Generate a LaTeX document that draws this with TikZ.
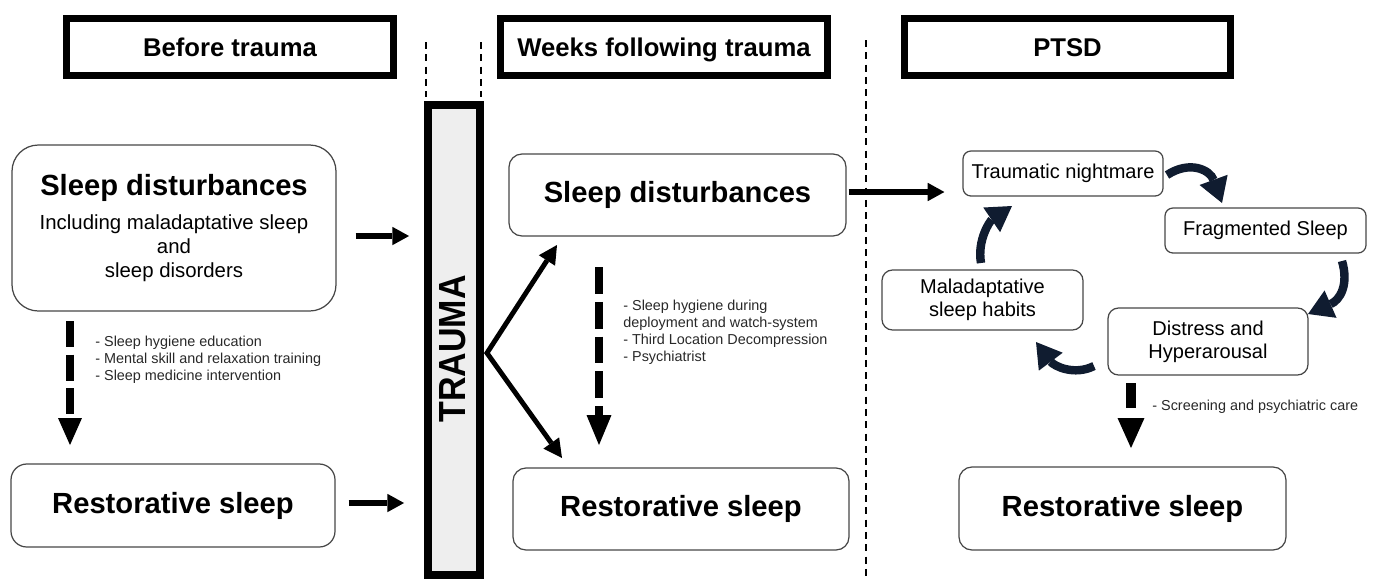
\documentclass[tikz,border=0pt]{standalone}
\usepackage{fontspec}
\usepackage{graphicx}
\setmainfont{Liberation Sans}
\usetikzlibrary{arrows.meta,calc}
\newdimen\pxu
\pxu=0.02cm
\definecolor{navy}{RGB}{16,28,48}
\definecolor{boxgray}{RGB}{70,70,70}
\definecolor{barfill}{RGB}{238,238,238}
\definecolor{notegray}{RGB}{40,40,40}
\begin{document}
\begin{tikzpicture}[x=0.02cm,y=-0.02cm,
  hdr/.style={draw=black,line width=3.8pt,minimum height=57.4\pxu,minimum width=326.4\pxu,inner sep=0pt,
    font=\fontsize{14.6}{17}\selectfont\bfseries,text height=10.5pt,text depth=0pt},
  rbox/.style={draw=boxgray,line width=0.7pt,rounded corners=7.4pt,inner sep=0pt,
    font=\fontsize{16.6}{20}\selectfont\bfseries},
  cbox/.style={draw=boxgray,line width=0.7pt,rounded corners=4.5pt,inner sep=0pt,align=center,
    font=\fontsize{11.4}{13.3}\selectfont},
  note/.style={anchor=west,align=left,inner sep=0pt,text=notegray,font=\fontsize{8.2}{9.65}\selectfont},
  sep/.style={dash pattern=on 4pt off 3pt,line width=1pt},
  harr/.style={line width=3.4pt,-{Triangle[width=10.5pt,length=9.5pt,line width=0pt]}},
  darr/.style={line width=2.8pt,line join=miter,{Triangle[width=11pt,length=10.5pt,line width=0pt]}-{Triangle[width=11pt,length=10.5pt,line width=0pt]}},
  dasharr/.style={line width=5pt},
  carr/.style={draw=navy,line width=4.8pt,-{Triangle[width=17pt,length=14pt,line width=0pt]}},
]
\useasboundingbox (0,0) rectangle (1373,579);

% headers
\node[hdr] (h1) at (230,47) {Before trauma};
\node[hdr] (h2) at (664,47) {Weeks following trauma};
\node[hdr] (h3) at (1067.5,47) {PTSD};

% separators
\draw[sep] (426,42) -- (426,97);
\draw[sep] (481,42) -- (481,97);
\draw[sep] (866,40) -- (866,576);

% trauma bar
\node[draw=black,fill=barfill,line width=4.8pt,minimum width=51.5\pxu,minimum height=469.5\pxu,inner sep=0pt] (trauma) at (454,340) {};
\node[rotate=90,inner sep=0pt,font=\fontsize{21.5}{25}\selectfont\bfseries] (traumatxt) at (453,349) {\scalebox{0.9}[1]{TRAUMA}};

% left column
\node[rbox,rounded corners=15pt,minimum width=324\pxu,minimum height=166\pxu,align=center,
  font=\fontsize{11.6}{13.6}\selectfont] (sdl) at (174,228)
  {{\fontsize{16.6}{20}\selectfont\bfseries Sleep disturbances}\\[6.2pt]Including maladaptative sleep\\and\\sleep disorders};
\node[rbox,rounded corners=9pt,minimum width=324\pxu,minimum height=83\pxu] (rsl) at (173,505.5) {Restorative sleep};
\node[note] (n1) at (95,360) {- Sleep hygiene education\\- Mental skill and relaxation training\\- Sleep medicine intervention};

% middle column
\node[rbox,minimum width=337\pxu,minimum height=82\pxu] (sdm) at (677.5,195) {Sleep disturbances};
\node[rbox,minimum width=336\pxu,minimum height=82\pxu] (rsm) at (681,509) {Restorative sleep};
\node[note] (n2) at (623,332.5) {- Sleep hygiene during\\deployment and watch-system\\- Third Location Decompression\\- Psychiatrist};

% right column
\node[cbox,minimum width=200\pxu,minimum height=45\pxu] (tn) at (1063,173.5) {Traumatic nightmare};
\node[cbox,minimum width=201\pxu,minimum height=45\pxu] (fs) at (1265.5,230.5) {Fragmented Sleep};
\node[cbox,rounded corners=6pt,minimum width=201\pxu,minimum height=60\pxu] (msh) at (982.5,300) {Maladaptative\\sleep habits};
\node[cbox,rounded corners=6pt,minimum width=200\pxu,minimum height=67\pxu] (dh) at (1208,341.5) {Distress and\\Hyperarousal};
\node[rbox,minimum width=327\pxu,minimum height=83\pxu] (rsr) at (1122.5,508.5) {Restorative sleep};
\node[note] (n3) at (1152,407) {- Screening and psychiatric care};

% straight arrows
\draw[harr] ($(sdl.east)+(19,8)$) -- ($(trauma.west|-sdl.east)+(-15,8)$);
\draw[harr] ($(rsl.east)+(13,-2.5)$) -- ($(trauma.west|-rsl.east)+(-20,-2.5)$);
\draw[harr] ($(sdm.east)+(2,-3)$) -- ($(tn.west|-sdm.east)+(-18,-3)$);

\coordinate (apex) at ($(trauma.east)+(3,13)$);
\coordinate (tipA) at (557,245);
\coordinate (tipB) at (562,458);
\draw[darr] (tipA) -- (apex) -- (tipB);

% dashed arrows
\coordinate (dl1) at (70,321);
\coordinate (dl2) at (70,445);
\draw[dasharr,dash pattern=on 14.7pt off 4.5pt,-{Triangle[width=13.6pt,length=15.3pt,line width=0pt]}] (dl1) -- (dl2);
\coordinate (dm1) at (599,267);
\coordinate (dm2) at (599,445);
\draw[dasharr,line width=4.6pt,dash pattern=on 15.3pt off 4.5pt,-{Triangle[width=14.2pt,length=17pt,line width=0pt]}] (dm1) -- (dm2);
\coordinate (dr1) at (1131,383);
\coordinate (dr2) at (1131,448);
\draw[dasharr,line width=5.6pt,dash pattern=on 14.2pt off 6pt,-{Triangle[width=15.3pt,length=17pt,line width=0pt]}] (dr1) -- (dr2);

% cycle arrows
\coordinate (c1s) at (1167,175);
\coordinate (c1e) at (1222,203);
\draw[carr] (c1s) .. controls (1190,160) and (1210,170) .. (c1e);
\coordinate (c2s) at (1342,261);
\coordinate (c2e) at (1308,314);
\draw[carr] (c2s) .. controls (1349,285) and (1340,300) .. (c2e);
\coordinate (c3s) at (1094,366);
\coordinate (c3e) at (1036,342);
\draw[carr] (c3s) .. controls (1074,376) and (1054,366) .. (c3e);
\coordinate (c4s) at (981,263);
\coordinate (c4e) at (1012,206);
\draw[carr] (c4s) .. controls (977,240) and (990,221) .. (c4e);
\end{tikzpicture}
\end{document}
